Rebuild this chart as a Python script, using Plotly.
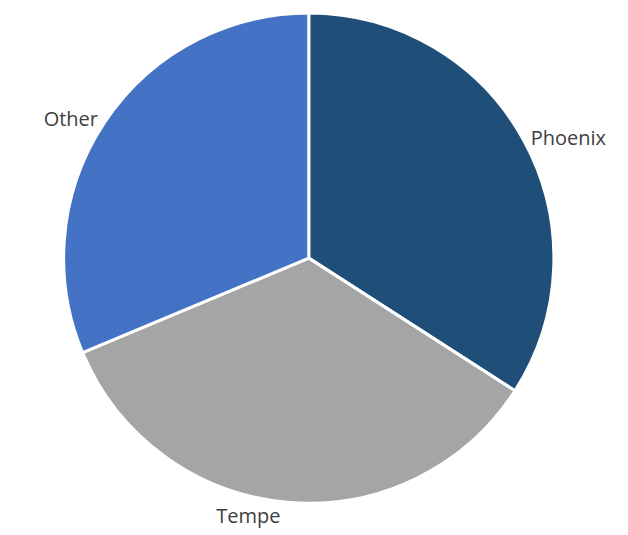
import plotly.graph_objects as go

labels = ["Phoenix", "Tempe", "Other"]
values = [34.1, 34.6, 31.3]
colors = ["#1F4E79", "#A5A5A5", "#4472C4"]

fig = go.Figure(go.Pie(
    labels=labels,
    values=values,
    sort=False,
    direction="clockwise",
    rotation=0,
    domain=dict(x=[0.08, 1.0], y=[0.075, 1.0]),
    marker=dict(colors=colors, line=dict(color="white", width=3)),
    textinfo="label",
    textposition="outside",
    textfont=dict(family="Open Sans", size=20, color="#404040"),
    showlegend=False,
    hoverinfo="label+value",
))
fig.update_layout(
    width=628, height=535,
    margin=dict(l=0, r=0, t=0, b=0),
    paper_bgcolor="white",
)
fig.write_html("out.html")
